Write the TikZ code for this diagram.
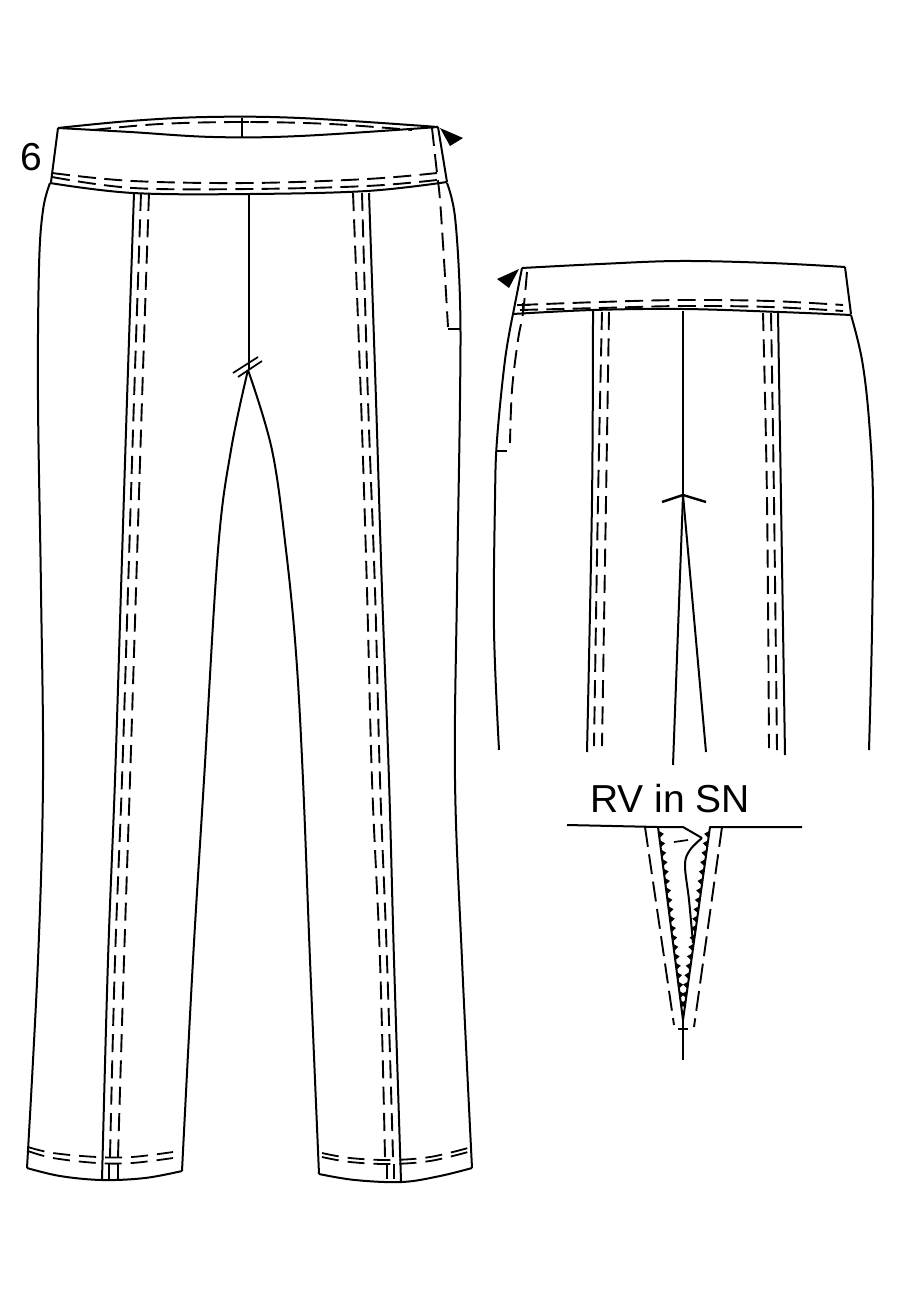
\documentclass[tikz,border=0pt]{standalone}
\usepackage{fontspec}
\setmainfont{Liberation Sans}
\usetikzlibrary{calc}
\tikzset{
  seam/.style={line width=2pt,line join=round,black},
  thin seam/.style={line width=1.7pt,black},
  stitch/.style={line width=1.9pt,black,dash pattern=on 18pt off 8.3pt},
  hemstitch/.style={line width=1.8pt,black,dash pattern=on 17pt off 9pt},
  marker/.style={fill=black,draw=none},
  label text/.style={font=\fontsize{39}{39}\selectfont,inner sep=0pt,anchor=base west}
}
\newcommand{\smoothline}[2]{\draw[#1] plot[smooth,tension=0.6] coordinates {#2};}
\begin{document}
\begin{tikzpicture}[x=1pt,y=-1pt]
\useasboundingbox[fill=white] (0,0) rectangle (900,1300);
% ---------- front view ----------
\node[label text] (six) at (20,170.5) {6};
% waistband
\smoothline{seam}{(58,128)(130,121)(207,117)(300,118)(438,127)}
\smoothline{seam}{(58,128)(130,132)(213,137)(300,136)(438,127)}
\smoothline{stitch}{(93,130)(160,124)(243,122)(330,124)(412,130)}
\draw[seam] (58,128) -- (51,182);
\draw[seam] (438,127) -- (447,182);
\draw[thin seam] (242,118) -- (242,137);
\draw[thin seam] (236,122) -- (249,122);
\smoothline{stitch}{(52,173)(133,181)(250,183)(367,179)(437,173)}
\smoothline{stitch}{(52,177)(133,188)(250,189)(367,186)(437,180)}
\smoothline{seam}{(50,183)(133,193)(250,194)(367,191)(447,182)}
\fill[marker] (440,128) -- (463,138) -- (450,146) -- cycle;
% outer seams
\smoothline{seam}{(50,183)(43,210)(39,267)(38,400)(41,590)(43,780)(38,960)(27,1168)}
\smoothline{seam}{(447,183)(455,217)(460,300)(460,400)(457,590)(455,780)(462,960)(472,1168)}
% pocket
\smoothline{stitch}{(432,128)(437,173)(440,200)(444,260)(448,327)}
\draw[thin seam] (448,329) -- (460,329);
% centre and crotch
\draw[thin seam] (249,194) -- (249,370);
\draw[thin seam] (233,373) -- (258,357);
\draw[thin seam] (238,377) -- (262,361);
\smoothline{seam}{(248,370)(231,450)(218,550)(204,780)(193,960)(182,1171)}
\smoothline{seam}{(248,370)(272,450)(286,550)(296,653)(303,780)(310,960)(319,1174)}
% hems
\smoothline{seam}{(27,1168)(60,1176)(102,1180)(145,1178)(182,1171)}
\smoothline{seam}{(319,1174)(355,1180)(402,1182)(440,1176)(472,1168)}
\smoothline{hemstitch}{(28,1147)(53,1153)(97,1157)(132,1157)(173,1152)}
\smoothline{hemstitch}{(28,1151)(53,1158)(97,1163)(132,1163)(173,1158)}
\smoothline{hemstitch}{(322,1153)(350,1158)(390,1160)(430,1157)(468,1148)}
\smoothline{hemstitch}{(322,1157)(350,1162)(390,1164)(430,1161)(468,1152)}
% left panel
\smoothline{seam}{(134,193)(127,400)(121,590)(115,780)(108,960)(102,1180)}
\smoothline{stitch}{(141,193)(134,400)(128,590)(122,780)(115,960)(110,1157)}
\smoothline{stitch}{(149,193)(142,400)(136,590)(130,780)(124,960)(118,1157)}
\draw[thin seam] (109,1163) -- (109,1179);
\draw[thin seam] (118,1163) -- (118,1179);
% right panel
\smoothline{seam}{(369,193)(376,400)(382,590)(389,780)(394,960)(401,1181)}
\smoothline{stitch}{(353,193)(361,400)(367,590)(372,780)(380,960)(385,1157)}
\smoothline{stitch}{(362,193)(368,400)(375,590)(380,780)(387,960)(393,1157)}
\draw[thin seam] (387,1164) -- (387,1179);
\draw[thin seam] (394,1164) -- (394,1179);
% ---------- back view ----------
\smoothline{seam}{(522,268)(600,264)(680,261)(770,263)(845,267)}
\draw[seam] (522,268) -- (513,314);
\draw[seam] (845,267) -- (851,314);
\smoothline{stitch}{(520,305)(600,302)(683,300)(770,301)(843,305)}
\smoothline{stitch}{(520,310)(600,308)(683,306)(770,307)(843,311)}
\smoothline{seam}{(513,314)(593,310)(683,309)(780,312)(851,315)}
\fill[marker] (497,279) -- (519,269) -- (509,288) -- cycle;
\smoothline{seam}{(513,314)(505,360)(497,440)(495,500)(494,630)(499,750)}
\smoothline{seam}{(851,315)(862,360)(869,420)(873,500)(872,630)(869,750)}
\smoothline{stitch}{(527,272)(523,313)(518,340)(512,390)(510,443)}
\draw[thin seam] (497,451) -- (507,451);
\draw[thin seam] (523,303) -- (523,314);
\draw[thin seam] (517,305) -- (530,305);
% back panels
\smoothline{seam}{(593,311)(592,500)(587,752)}
\smoothline{stitch}{(602,312)(598,500)(594,746)}
\smoothline{stitch}{(609,312)(606,500)(602,746)}
\smoothline{seam}{(778,312)(781,500)(785,755)}
\smoothline{stitch}{(763,313)(767,500)(769,748)}
\smoothline{stitch}{(771,313)(774,500)(777,750)}
% back centre
\draw[thin seam] (683,311) -- (683,495);
\draw[seam,line width=2.4pt] (662,502) -- (683,495) -- (706,502);
\coordinate (slit) at (683,495);
\draw[seam] (slit) -- (673,765);
\draw[seam] (slit) -- (706,752);
% ---------- zip detail ----------
\node[label text] (zip) at (590,812) {RV in SN};
\coordinate (zl) at (658,827);
\coordinate (zr) at (710,827);
\coordinate (ze) at (683,1020);
\draw[seam] (567,825) -- (zl) -- (ze) -- (zr) -- (802,827);
\draw[seam] (zl) -- (683,827) -- (702,838);
\smoothline{seam}{(702,838)(690,850)(685,865)(689,900)(693,943)}
\draw[thin seam] (674,842) -- (688,840);
\draw[stitch,dash pattern=on 20pt off 7.6pt] (645,827) -- (674,1025);
\draw[stitch,dash pattern=on 20pt off 7.6pt] (722,827) -- (694,1027);
\draw[seam] (ze) -- (683,1060);
\draw[thin seam] (678,1029) -- (688,1029);
\foreach \i in {0,...,18}{
  \pgfmathsetmacro{\ta}{\i/19}
  \pgfmathsetmacro{\tb}{(\i+0.7)/19}
  \pgfmathsetmacro{\tc}{(\i+0.3)/19}
  \fill[marker] ($(659,831)!\ta!(682,1010)$) -- ($(659,831)!\tb!(682,1010)$) -- ($(659,831)!\tc!(682,1010)+(4.5,0)$) -- cycle;
  \fill[marker] ($(709,831)!\ta!(684,1010)$) -- ($(709,831)!\tb!(684,1010)$) -- ($(709,831)!\tc!(684,1010)+(-4.5,0)$) -- cycle;
}
\end{tikzpicture}
\end{document}
